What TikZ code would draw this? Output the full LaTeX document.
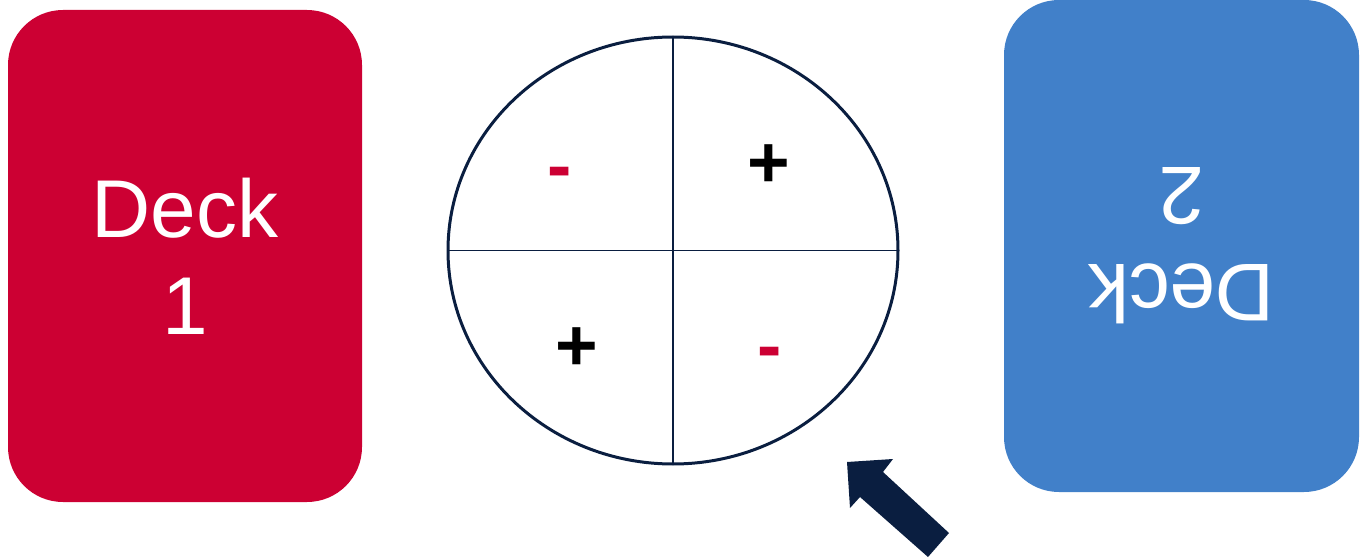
\documentclass[tikz,border=0pt]{standalone}
\usepackage{fontspec}
\setmainfont{Liberation Sans}
\usetikzlibrary{shapes.geometric}
\definecolor{deckred}{RGB}{204,0,51}
\definecolor{deckblue}{RGB}{65,128,201}
\definecolor{navy}{RGB}{10,30,64}
\begin{document}
\begin{tikzpicture}[x=1pt,y=-1pt,
  card/.style={rounded corners=55pt, minimum width=354pt, minimum height=492pt,
    inner sep=0pt, outer sep=0pt, text=white, align=center,
    font=\fontsize{82}{97}\selectfont},
  sign/.style={font=\bfseries\fontsize{73}{73}\selectfont, inner sep=0pt, anchor=base},
  quarter/.style={navy, line width=1.5pt}]
\useasboundingbox (0,0) rectangle (1369,559);
\node[card, fill=deckred] (deck1) at (185,256) {Deck\\1};
\node[card, fill=deckblue, rotate=180, minimum width=355pt] (deck2) at (1181.5,246) {Deck\\2};
\node[ellipse, draw=navy, line width=3pt, minimum width=450pt, minimum height=427pt,
  inner sep=0pt, outer sep=0pt] (wheel) at (673,250.5) {};
\draw[quarter] (wheel.north) -- (wheel.south);
\draw[quarter] (wheel.west) -- (wheel.east);
\node[sign, text=deckred] (m1) at (559.3,191) {-};
\node[sign, text=black] (p1) at (769,187) {+};
\node[sign, text=black] (p2) at (577.3,370) {+};
\node[sign, text=deckred] (m2) at (769.7,370.6) {-};
\fill[navy] (847,462) -- (893,459) -- (883,472) -- (949,533) -- (928,557)
  -- (860,497) -- (850,508) -- cycle;
\end{tikzpicture}
\end{document}
